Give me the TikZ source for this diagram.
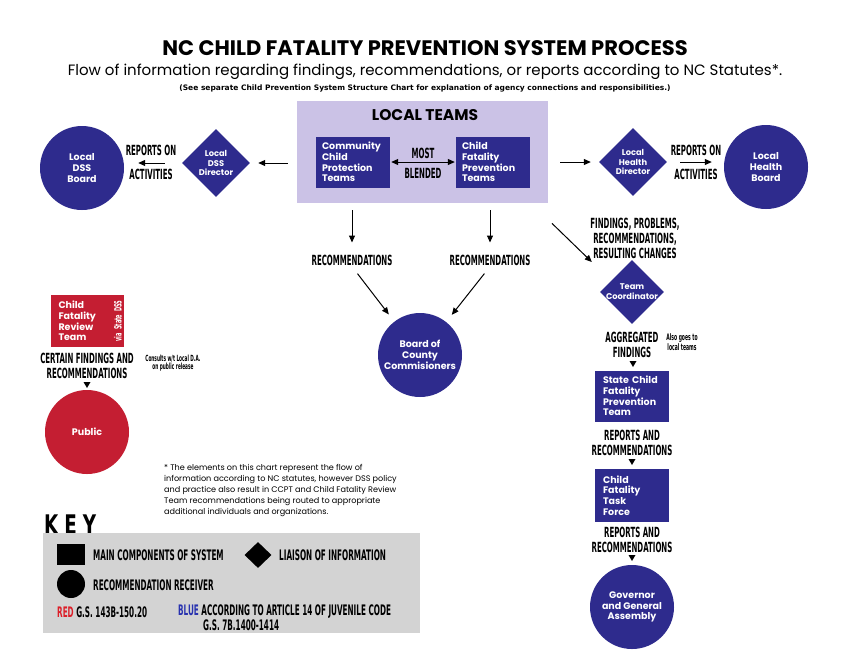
\documentclass[tikz,border=0pt]{standalone}
\usepackage{fontspec}
\setmainfont{Poppins}
\newfontfamily\cfont{DejaVu Sans}[FakeStretch=0.5]
\newfontfamily\nfont{DejaVu Sans}
\newfontfamily\keyfont{DejaVu Sans}[FakeStretch=0.68]
\usetikzlibrary{shapes.geometric,arrows.meta,calc}
\definecolor{navy}{RGB}{46,43,141}
\definecolor{crimson}{RGB}{196,30,50}
\definecolor{lav}{RGB}{203,194,230}
\definecolor{keygray}{RGB}{211,211,211}
\definecolor{kred}{RGB}{220,30,40}
\definecolor{kblue}{RGB}{40,50,175}
\begin{document}
\begin{tikzpicture}[x=1pt,y=-1pt,
  nav/.style={fill=navy,text=white,inner sep=0pt,align=center,font=\bfseries\fontsize{9.5}{10.8}\selectfont},
  circ/.style={nav,circle,minimum size=84pt},
  dia/.style={diamond,fill=navy,inner sep=0pt,minimum width=68pt,minimum height=68pt},
  dlab/.style={text=white,align=center,inner sep=0pt,font=\bfseries\fontsize{8.3}{9.8}\selectfont},
  box/.style={nav,rectangle,minimum width=74pt,minimum height=51pt,align=left,text width=62pt},
  lbl/.style={font=\cfont\bfseries\fontsize{14}{15}\selectfont,align=center,inner sep=1pt},
  klbl/.style={font=\cfont\bfseries\fontsize{14.5}{13}\selectfont,inner sep=0pt,anchor=west},
  small/.style={font=\cfont\bfseries\fontsize{8.5}{8.5}\selectfont,align=center,inner sep=0pt},
  tri/.style={isosceles triangle,shape border rotate=-90,fill=black,inner sep=0pt,minimum height=6pt,minimum width=7pt,isosceles triangle stretches},
  arr/.style={line width=1pt,-{Triangle[length=7pt,width=6pt]}},
  dbl/.style={line width=1pt,{Triangle[length=7pt,width=6pt]}-{Triangle[length=7pt,width=6pt]}}
]
\useasboundingbox (0,0) rectangle (850,657);
\fill[white] (0,0) rectangle (850,657);

% titles
\node[font=\bfseries\fontsize{21}{23}\selectfont,inner sep=0] (title) at (425,48) {NC CHILD FATALITY PREVENTION SYSTEM PROCESS};
\node[font=\fontsize{15}{17}\selectfont,inner sep=0] (sub) at (425,72) {Flow of information regarding findings, recommendations, or reports according to NC Statutes*.};
\node[font=\nfont\bfseries\fontsize{7.5}{9}\selectfont,inner sep=0] (note) at (425,88) {(See separate Child Prevention System Structure Chart for explanation of agency connections and responsibilities.)};

% local teams
\node[fill=lav,minimum width=251pt,minimum height=102pt,inner sep=0] (lt) at (422.5,152) {};
\node[font=\bfseries\fontsize{15.5}{17}\selectfont,inner sep=0] (lttitle) at (425,115) {LOCAL TEAMS};
\node[box] (ccpt) at (353,162) {Community\\Child\\Protection\\Teams};
\node[box] (cfpt) at (493,162) {Child\\Fatality\\Prevention\\Teams};
\node[lbl] (most) at (423,153) {MOST};
\node[lbl] (blend) at (423,173) {BLENDED};
\draw[dbl,shorten <=1pt,shorten >=1pt] (ccpt.east) -- (cfpt.west);

% left DSS
\node[circ] (dssb) at (82,168) {Local\\DSS\\Board};
\node[dia,label={[dlab]center:Local\\DSS\\Director}] (dssd) at (216,163) {};
\draw[arr,shorten <=9pt,shorten >=8pt] (lt.west |- dssd) -- (dssd.east);
\draw[arr,shorten <=17pt,shorten >=14pt] (dssd.west) -- (dssb.east |- dssd.west);
\node[lbl] (rep1) at (151,150) {REPORTS ON};
\node[lbl] (act1) at (151,174) {ACTIVITIES};

% right health
\node[dia,label={[dlab]center:Local\\Health\\Director}] (lhd) at (633,162) {};
\node[circ] (lhb) at (766,167) {Local\\Health\\Board};
\draw[arr,shorten <=12pt,shorten >=8pt] (lt.east |- lhd) -- (lhd.west);
\draw[arr,shorten <=13pt,shorten >=12pt] (lhd.east) -- (lhb.west |- lhd.east);
\node[lbl] (rep2) at (696,150) {REPORTS ON};
\node[lbl] (act2) at (696,174) {ACTIVITIES};

% recommendations to board
\node[lbl] (rec1) at (352,260) {RECOMMENDATIONS};
\node[lbl] (rec2) at (490,260) {RECOMMENDATIONS};
\node[circ] (bcc) at (420,355) {Board of\\County\\Commisioners};
\draw[arr,shorten <=7pt,shorten >=11pt] (lt.south -| rec1) -- (rec1.north);
\draw[arr,shorten <=7pt,shorten >=11pt] (lt.south -| rec2) -- (rec2.north);
\draw[arr,shorten <=9pt,shorten >=9pt] (rec1.south) -- (bcc);
\draw[arr,shorten <=9pt,shorten >=9pt] (rec2.south) -- (bcc);

% state chain
\node[lbl] (find) at (635,238) {FINDINGS, PROBLEMS,\\RECOMMENDATIONS,\\RESULTING CHANGES};
\node[dia,minimum width=64pt,minimum height=64pt,label={[dlab]center:Team\\Coordinator}] (tc) at (632,292) {};
\coordinate (fs) at ($(lt.south east)+(-17,0)$);
\draw[arr,shorten <=29pt,shorten >=56pt] (fs) -- ($(tc)+(0,9)$);
\node[lbl] (agg) at (632,344.5) {AGGREGATED\\FINDINGS};
\node[small,font=\cfont\bfseries\fontsize{9}{8.5}\selectfont] (also) at (682,342) {Also goes to\\local teams};
\node[tri] (t1) at (633,363) {};
\node[box,text width=58pt] (scfpt) at (632,396) {State Child\\Fatality\\Prevention\\Team};
\node[lbl] (rr1) at (632,443) {REPORTS AND\\RECOMMENDATIONS};
\node[tri] (t2) at (632,461) {};
\node[box,text width=58pt,minimum height=53pt] (cftf) at (632,495.5) {Child\\Fatality\\Task\\Force};
\node[lbl] (rr2) at (632,540) {REPORTS AND\\RECOMMENDATIONS};
\node[tri] (t3) at (632,557) {};
\node[circ] (gov) at (632,607) {Governor\\and General\\Assembly};

% left review team
\node[box,fill=crimson,minimum width=73pt,minimum height=52pt,text width=58pt] (cfrt) at (87.5,321) {Child\\Fatality\\Review\\Team};
\node[rotate=90,text=white,font=\cfont\bfseries\fontsize{10}{10}\selectfont,inner sep=0] (via) at (118,321) {via\hspace{3pt}State\hspace{3pt}DSS};
\node[lbl] (cert) at (87,365.5) {CERTAIN FINDINGS AND\\RECOMMENDATIONS};
\node[small] (cons) at (173,363) {Consults w/t Local D.A.\\on public release};
\node[tri] (t4) at (87,384) {};
\node[circ,fill=crimson] (pub) at (87,432) {Public};

% footnote
\node[anchor=north west,align=left,inner sep=0,font=\fontsize{8.1}{11}\selectfont] (foot) at (164,464) {* The elements on this chart represent the flow of\\information according to NC statutes, however DSS policy\\and practice also result in CCPT and Child Fatality Review\\Team recommendations being routed to appropriate\\additional individuals and organizations.};

% key
\node[font=\keyfont\bfseries\fontsize{27}{28}\selectfont,inner sep=0,anchor=west] (key) at (44,525) {K\hspace{6pt}E\hspace{6pt}Y};
\node[fill=keygray,minimum width=377pt,minimum height=100pt,inner sep=0] (keybox) at (231.5,583) {};
\node[fill=black,minimum width=28pt,minimum height=21pt,inner sep=0] (ksq) at (71,554.5) {};
\node[diamond,fill=black,minimum width=27pt,minimum height=26pt,inner sep=0] (kdia) at (258,555) {};
\node[circle,fill=black,minimum size=28pt,inner sep=0] (kcirc) at (71,584) {};
\node[klbl] (k1) at (93,555) {MAIN COMPONENTS OF SYSTEM};
\node[klbl] (k2) at (279,555) {LIAISON OF INFORMATION};
\node[klbl] (k3) at (93,585) {RECOMMENDATION RECEIVER};
\node[klbl] (k4) at (57,612) {\textcolor{kred}{RED} G.S. 143B-150.20};
\node[klbl] (k5) at (178,612) {\textcolor{kblue}{BLUE} ACCORDING TO ARTICLE 14 OF JUVENILE CODE};
\node[klbl] (k6) at (203,625) {G.S. 7B.1400-1414};
\end{tikzpicture}
\end{document}
